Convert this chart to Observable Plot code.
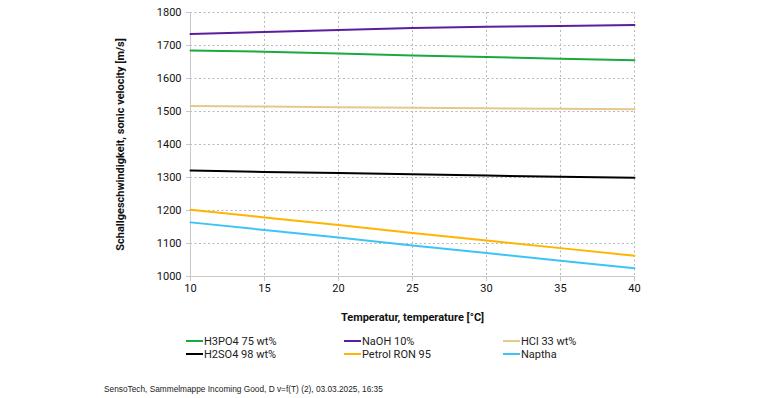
<!DOCTYPE html>
<html>
<head>
<meta charset="utf-8">
<script src="https://cdn.jsdelivr.net/npm/d3@7"></script>
<script src="https://cdn.jsdelivr.net/npm/@observablehq/plot@0.6"></script>
<style>
  html, body { margin: 0; padding: 0; background: #fff; }
  #wrap { position: relative; width: 770px; height: 398px; overflow: hidden; font-family: Roboto, "Noto Sans", sans-serif; }
  #chart svg { display: block; }
  .leg { position: absolute; font-size: 11px; color: #222; white-space: nowrap; line-height: 12px; }
  .leg .sw { display: inline-block; width: 17px; height: 2px; vertical-align: middle; margin-right: 1px; position: relative; top: -1px; }
  #footer { position: absolute; left: 104px; top: 384px; font-family: "Liberation Sans", Arial, sans-serif; font-size: 8.3px; color: #222; white-space: nowrap; }
</style>
</head>
<body>
<div id="wrap">
  <div id="chart"></div>
  <div id="legend"></div>
  <div id="footer"></div>
</div>
<script>
const temperatures = [10, 15, 20, 25, 30, 35, 40];
const seriesNames = ["H3PO4 75 wt%", "NaOH 10%", "HCl 33 wt%", "H2SO4 98 wt%", "Petrol RON 95", "Naptha"];
const seriesColors = ["#1aaa3c", "#5a1e9e", "#e6c88e", "#000000", "#ffb400", "#3cc4f8"];
const h3po4 = [1685, 1681, 1676, 1670, 1665, 1660, 1655];
const naoh = [1735, 1741, 1747, 1753, 1757, 1759, 1762];
const hcl = [1517, 1515, 1513, 1511, 1510, 1508, 1507];
const h2so4 = [1321, 1317, 1314, 1310, 1306, 1302, 1299];
const petrol = [1202, 1179, 1156, 1132, 1109, 1086, 1063];
const naptha = [1164, 1141, 1118, 1094, 1071, 1048, 1025];
const xTicks = [10, 15, 20, 25, 30, 35, 40];
const yTicks = [1000, 1100, 1200, 1300, 1400, 1500, 1600, 1700, 1800];
const xLabel = "Temperatur, temperature [°C]";
const yLabel = "Schallgeschwindigkeit, sonic velocity [m/s]";
const footerText = "SensoTech, Sammelmappe Incoming Good, D v=f(T) (2), 03.03.2025, 16:35";

const seriesValues = [h3po4, naoh, hcl, h2so4, petrol, naptha];
const rows = [];
seriesNames.forEach((name, i) => {
  temperatures.forEach((t, j) => rows.push({series: name, t, v: seriesValues[i][j]}));
});

const plot = Plot.plot({
  width: 770,
  height: 325,
  marginLeft: 190,
  marginRight: 136,
  marginTop: 12,
  marginBottom: 49,
  style: {fontFamily: "Roboto, sans-serif", fontSize: "11px", color: "#111", background: "#fff"},
  x: {domain: [10, 40], ticks: xTicks, label: null},
  y: {domain: [1000, 1800], ticks: yTicks, label: null},
  color: {domain: seriesNames, range: seriesColors},
  marks: [
    Plot.gridX(xTicks.filter(d => d > 10), {stroke: "#b8b8b8", strokeOpacity: 1, strokeDasharray: "2,2.5"}),
    Plot.gridY(yTicks.filter(d => d > 1000), {stroke: "#b8b8b8", strokeOpacity: 1, strokeDasharray: "2,2.5"}),
    Plot.ruleX([10], {stroke: "#c8c8c8"}),
    Plot.ruleY([1000], {stroke: "#c8c8c8"}),
    Plot.axisX(xTicks, {tickSize: 5, tickPadding: 3, stroke: "#c8c8c8", fill: "#111", fontSize: 11,
      tickFormat: d => String(d),
      label: xLabel, labelAnchor: "center", labelArrow: "none", labelOffset: 44}),
    Plot.axisY(yTicks, {tickSize: 4, tickPadding: 5, stroke: "#c8c8c8", fill: "#111", fontSize: 11,
      tickFormat: d => String(d),
      label: yLabel, labelAnchor: "center", labelArrow: "none", labelOffset: 74}),
    Plot.line(rows, {x: "t", y: "v", z: "series", stroke: "series", strokeWidth: 2})
  ]
});
document.getElementById("chart").appendChild(plot);

// Bold axis titles
d3.select(plot).selectAll("text").filter(function() {
  const t = this.textContent;
  return t === xLabel || t === yLabel;
}).attr("font-weight", "bold").attr("font-size", 11);

// Legend
const legPos = [[186, 335.5], [344, 335.5], [503, 335.5], [186, 348.5], [344, 348.5], [503, 348.5]];
const legend = document.getElementById("legend");
seriesNames.forEach((name, i) => {
  const d = document.createElement("div");
  d.className = "leg";
  d.style.left = legPos[i][0] + "px";
  d.style.top = legPos[i][1] + "px";
  const sw = document.createElement("span");
  sw.className = "sw";
  sw.style.background = seriesColors[i];
  d.appendChild(sw);
  d.appendChild(document.createTextNode(name));
  legend.appendChild(d);
});
document.getElementById("footer").textContent = footerText;
</script>
</body>
</html>
